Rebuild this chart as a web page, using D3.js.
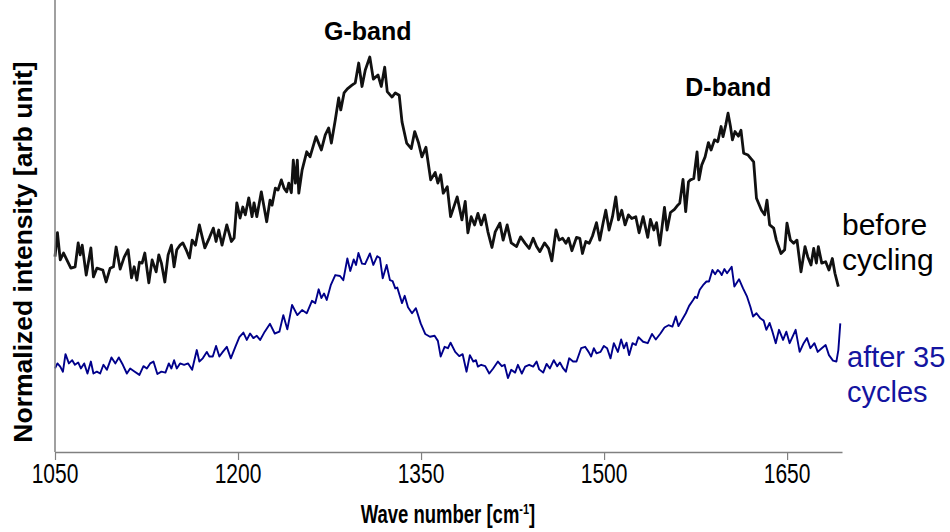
<!DOCTYPE html>
<html><head><meta charset="utf-8">
<script src="https://cdn.jsdelivr.net/npm/d3@7"></script>
<style>body{margin:0;background:#fff}svg{display:block}text{font-family:"Liberation Sans",Arial,sans-serif}</style>
</head><body><svg id="c" width="950" height="532"></svg>
<script>
// wavenumber (cm-1) and normalized intensity (arb units)
const beforeWn = [1050,1052,1054.3,1057,1059.7,1063,1066.5,1069,1070.6,1072.3,1075.6,1079.4,1081.5,1084.3,1089.2,1091.9,1095.2,1097.9,1100.1,1103.4,1106.7,1109.9,1112.7,1114.9,1117.1,1119.2,1121.4,1123.6,1126.9,1129.6,1132.9,1135.1,1137.2,1140,1142.7,1145.4,1147.6,1149.8,1152.5,1154.8,1157.5,1160.2,1162.4,1165.1,1168.3,1172.8,1176.5,1179.8,1182,1184.2,1186.9,1190.8,1194.6,1196.8,1199,1201.7,1203.9,1206,1208.8,1211.5,1213.1,1215.4,1219.1,1223.5,1226.2,1227.9,1230.6,1232.8,1235.5,1237.7,1239.9,1241.6,1243.7,1245.3,1247,1248.6,1249.8,1252.5,1256.3,1259,1263.9,1268.3,1271.5,1274.3,1276.5,1279.7,1282.5,1284.2,1286.9,1289.6,1293.4,1296.1,1298.9,1301.6,1304.3,1308,1310.9,1314.7,1317.4,1320.2,1322.3,1326.2,1328.9,1332.1,1334.4,1338.2,1342,1344.8,1348,1350.7,1354,1357.9,1361.6,1363.8,1366.1,1368.2,1371.5,1374.2,1379.6,1383.5,1386.2,1388.4,1391.1,1393.9,1396.6,1399.3,1402.1,1404.8,1408.1,1410.8,1414.6,1417.3,1420.6,1423.9,1428.3,1431.6,1435.3,1438.6,1441.9,1444.7,1447.4,1451.2,1454.5,1457.2,1460.6,1463.2,1466,1468.7,1470.9,1473.6,1477.4,1480.1,1482.3,1485,1487.8,1490.5,1493.8,1496.5,1499.2,1501.4,1504.1,1506.9,1509.6,1511.8,1514.5,1517.2,1520,1522.7,1526,1528.7,1532,1535.8,1538,1540.8,1543,1545.7,1549.5,1551.6,1554.4,1557.7,1560.4,1562,1564.7,1566.9,1569.2,1570.8,1573.5,1576.2,1577.8,1580,1582.8,1585.5,1587.7,1590.5,1593.2,1595.9,1597.5,1599.7,1601.6,1603.6,1605.2,1607.3,1610.1,1612.2,1614.4,1618,1622.6,1624.9,1629,1631.6,1633.5,1635.7,1639,1641.2,1645,1648,1649.9,1652.7,1655.4,1658.1,1661.4,1664.7,1666.9,1669.6,1671.8,1674,1675.6,1678.4,1681.6,1684.3,1687.1,1689.2,1692];
const beforeVal = [44.2,49.4,43.5,45,43.5,41.7,42,47.2,44.6,46.7,40.2,46.1,39.8,41.7,41.3,38.7,41.7,42,46.3,41.5,44.1,45.7,39.6,42,39.1,43,42.8,45,38.5,43.5,40.9,44.6,42.8,38.7,44.6,46.7,42,45.7,46.7,47.2,45.7,43.9,47.8,46.7,51.1,46.1,48.3,50.4,47.5,50,46.7,51.1,47.5,48.3,55.9,52.6,55,53.3,57,52.9,55.9,52.9,58.3,51.8,56.5,55.4,59.1,58.7,60.9,59.1,58.3,60.2,58.1,65.2,60.2,65.2,58,63,67,65.9,70.3,67.4,70.7,72.2,68.9,73.9,78.7,76.1,79.8,80.7,81.5,82,86.3,81.2,84.8,87.6,82.8,83.7,81.2,85.4,80.1,78.9,79.8,79.3,73.5,68.9,67.7,71.4,68.9,65.9,68,60.9,62.5,60.2,62,58,59.4,52.9,57.2,52.2,56.2,49.4,52.9,51.1,53.6,51.1,53.3,49.6,46.2,49.6,51.5,47.8,51.1,47.2,46.4,48.5,47.1,46,48.2,46.4,45.3,47.2,46,43.3,50,47.8,48.2,47.1,48.2,45.5,48.4,48.2,44.9,47.5,47.1,48.7,51.6,47.8,51.5,54.3,50,52.9,57.2,52.2,54.3,51.1,53.3,52.5,52.9,49.4,52.9,48.4,52.3,50,51.6,46.7,54.9,50,53.8,54.5,55.4,55.8,61,54,60.5,60.9,61.2,67,60.9,64.1,65.9,69,67.4,69.6,69.2,72.5,70.3,72.8,75.4,72.5,69.6,71.4,70.4,71.7,66.7,66.3,64.8,56.9,54.3,53.3,56.5,51.1,50.4,47.8,44.9,45.7,51.5,47.8,47.1,47.8,40.9,46.4,44.2,42.4,46,42.8,46.4,42.8,43.1,41.3,43.8,40.6,37.7];
const afterWn = [1050,1052,1054.3,1056.5,1058.6,1061.4,1064.1,1066.3,1069,1071.2,1073.9,1076.6,1079.4,1081.5,1084.3,1087,1089.7,1092.5,1096.3,1099.5,1102.3,1105.6,1108.9,1111.6,1115.4,1119.2,1122.5,1125.3,1128,1130.7,1133.9,1137.2,1140.5,1143.3,1145.4,1147.6,1149.8,1152.5,1155.8,1159.1,1162.4,1166.2,1168.3,1171.1,1174.4,1176.5,1179.3,1182,1184.7,1187.5,1190.8,1194.1,1197.8,1201.1,1204.4,1207.2,1209.9,1212.6,1215.4,1218.1,1221.9,1226.2,1230.1,1233.9,1237.1,1240.4,1244.3,1248.6,1252.5,1256.3,1260.6,1263.3,1266.1,1268.3,1270.5,1272.7,1276,1279.7,1283.6,1286.3,1289.6,1292,1294.8,1296.7,1298.7,1301.6,1304.1,1308.1,1310.9,1314.1,1316.3,1318.6,1321.8,1324.5,1326.7,1328.9,1330.5,1334.4,1336.6,1339.3,1342.6,1345.8,1349.7,1353.4,1357.3,1361.1,1363.8,1366.1,1369.3,1372,1374.2,1378,1381.3,1384.1,1387.3,1390,1392.8,1395,1396.6,1399.3,1402.6,1405.9,1409.1,1413,1416.2,1418.5,1421.2,1423.9,1427.1,1429.4,1432.6,1435.3,1438.6,1441.9,1444.7,1446.8,1450.1,1452.9,1455.6,1458.8,1461.6,1463.8,1466.5,1468.7,1471.4,1474.6,1477.4,1481.2,1484.5,1487.3,1489.4,1491.6,1493.8,1497.1,1499.8,1502.5,1505.3,1508,1511.3,1514,1516.2,1518.4,1520.5,1523.3,1526,1528.2,1532,1535.8,1539.3,1542.4,1546.2,1549.5,1552.8,1556,1558.8,1561,1563.7,1567,1569.7,1573,1574.6,1576.2,1578.4,1581.1,1583.9,1586,1588.8,1591,1593.2,1594.8,1596.4,1598.6,1600.8,1604.6,1606.8,1610.6,1613.9,1617.2,1619.9,1622.1,1624.9,1628.1,1630.8,1633,1635.7,1638,1640.7,1643.4,1646.7,1649.4,1652.1,1657,1660.3,1663.6,1666.3,1669.1,1672.4,1675.1,1678.4,1681.6,1684.3,1687.6,1690.4,1692,1693.6];
const afterVal = [19.9,21,20.3,19.2,23,21,21.7,20.7,21.2,19.9,21,18.8,21.4,18.8,19.2,18.8,20.7,19.6,22.3,21,22.3,20.7,18.8,19.9,19.2,18.5,20.4,19.9,21,21.4,18.7,19.2,19,21,19.9,21.7,19.9,21,20.7,21,19.6,23.9,21.4,22.1,23.5,22.5,22.5,24.8,22.5,23.5,24.6,22.1,24.6,26.7,27.7,26.1,27.5,26.5,27,26.1,27.9,29.6,27.5,27.9,31.5,28.4,33.7,31.5,32.6,31.9,34.6,34.1,37.1,35.2,36.2,34.8,38,40.2,40,39.1,43.8,41.1,43.6,42.4,45,42.7,42.6,44.9,42.4,44.3,43.9,39.5,42.4,39.1,38.9,37.3,37.5,34.1,35.7,33.2,31.9,33,29.7,27.4,26.8,27,25.9,22.5,24.6,24.3,25.5,23.5,22.6,23,19.2,22.8,21.4,21.7,20.3,20.7,20.4,18.8,19.9,21.4,20.4,20.7,17.8,19.6,19,20.7,18.8,20.3,20.7,20.3,21.4,19.7,19,20.9,19.9,21.7,20.4,21.2,19.9,19.2,22.1,21.4,21.4,24.3,24.6,23.5,22.5,24.3,23.2,23.5,24.8,24.3,22.1,25.4,23.5,26.2,24.3,25.5,22.8,25.4,25,26.7,25.7,25.4,27.4,26.2,27.5,28.8,29.3,29,31.2,29.1,30.4,31.9,33.5,34.8,35.5,35.2,37,38,38.8,38.8,41.3,40.4,41.3,40.9,40.2,41.5,40.6,42,37.7,39.3,37.3,35.5,33.3,31.2,31.9,30.8,30.3,28.3,29.8,27.9,25.4,28.3,26.1,27.9,25.4,28.3,23.5,25.4,26.5,24.3,25.4,23.5,24.3,25,22.8,21.6,21.4,23.9,29.7];
const xTicks = [1050,1200,1350,1500,1650];
const xDomain = [1050,1695];
const yDomain = [0,100];
const bandLabels = ["G-band","D-band"];
const bandPos = [1308,1601];
const seriesNames = [["before","cycling"],["after 35","cycles"]];
const seriesColors = ["#111111","#00008b"];

const svg = d3.select("#c");
const axisY = 452;
const x = d3.scaleLinear().domain(xDomain).range([55,842]);
const y = d3.scaleLinear().domain(yDomain).range([460,0]);
const font = '"Liberation Sans",Arial,sans-serif';

const before = beforeWn.map((w,i)=>[w,beforeVal[i]]);
const after = afterWn.map((w,i)=>[w,afterVal[i]]);
const line = d3.line().x(d=>x(d[0])).y(d=>y(d[1]));

svg.append("path").datum(before).attr("d",line).attr("fill","none")
  .attr("stroke",seriesColors[0]).attr("stroke-width",2.8).attr("stroke-linejoin","round");
svg.append("path").datum(after).attr("d",line).attr("fill","none")
  .attr("stroke",seriesColors[1]).attr("stroke-width",1.9).attr("stroke-linejoin","round");

// axes
const xAxis = d3.axisBottom(x).tickValues(xTicks).tickSize(8).tickSizeOuter(0).tickFormat(()=>"");
const gx = svg.append("g").attr("transform",`translate(0,${axisY})`).call(xAxis);
gx.select(".domain").attr("stroke","#808080").attr("stroke-width",1.5);
gx.selectAll(".tick line").attr("stroke","#808080").attr("stroke-width",1.2);
// tick labels (condensed, as in the original)
svg.append("g").selectAll("text").data(xTicks).join("text")
  .attr("transform",d=>`translate(${x(d)},483) scale(1,1.35)`)
  .attr("text-anchor","middle").attr("font-size",21).attr("font-family",font)
  .text(d=>d3.format("d")(d));

svg.append("line").attr("x1",55).attr("x2",55).attr("y1",0).attr("y2",axisY)
  .attr("stroke","#808080").attr("stroke-width",1.5);

// axis titles
const xt = svg.append("text").attr("transform","translate(448,523) scale(1,1.35)").attr("text-anchor","middle")
  .attr("font-size",18.5).attr("font-weight","bold").attr("font-family",font);
xt.append("tspan").text("Wave number [cm");
xt.append("tspan").text("-1").attr("font-size",11).attr("dy",-7);
xt.append("tspan").text("]").attr("dy",7);

svg.append("text").attr("transform","translate(32,252) rotate(-90)").attr("text-anchor","middle")
  .attr("font-size",26.5).attr("font-weight","bold").attr("font-family",font)
  .text("Normalized intensity [arb unit]");

// band labels
const bandY = [40,96];
const bandDx = [-2,1];
bandLabels.forEach((t,i)=>{
  svg.append("text").attr("x",x(bandPos[i])+bandDx[i]).attr("y",bandY[i]).attr("text-anchor","middle")
    .attr("font-size",25).attr("font-weight","bold").attr("font-family",font).text(t);
});

// series labels
const labY = [[235,270],[367,402]];
const labSize = [30,29];
seriesNames.forEach((arr,i)=>{
  arr.forEach((t,j)=>{
    svg.append("text").attr("x",i===0?842:847).attr("y",labY[i][j])
      .attr("font-size",labSize[i]).attr("font-family",font)
      .attr("fill",i===0?"#000":"#1414a0").text(t);
  });
});
</script></body></html>
